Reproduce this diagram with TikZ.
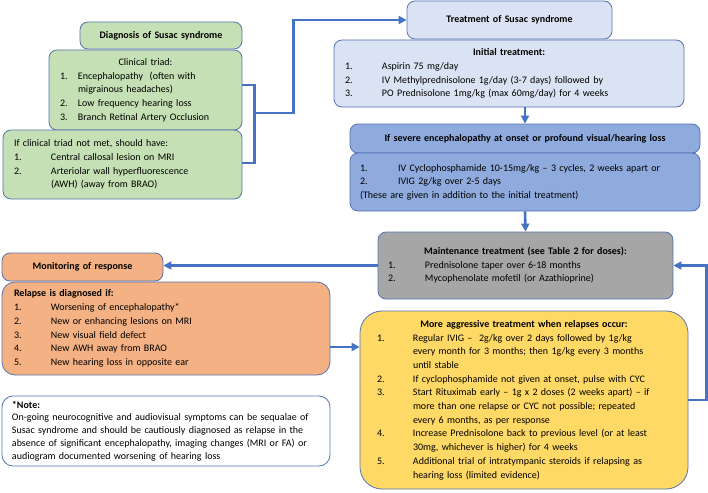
\documentclass[tikz,border=0pt]{standalone}
\usepackage{fontspec}
\setmainfont{Carlito}
\usetikzlibrary{arrows.meta,calc}

\definecolor{grn}{HTML}{C5E0B4}
\definecolor{lblue}{HTML}{DAE3F3}
\definecolor{mblue}{HTML}{8FAADC}
\definecolor{gry}{HTML}{A6A6A6}
\definecolor{orng}{HTML}{F4B183}
\definecolor{yel}{HTML}{FFD966}
\definecolor{lnk}{HTML}{4472C4}
\definecolor{bord}{HTML}{5573B2}

\tikzset{
	box/.style={draw=bord, line width=0.8pt, rounded corners=8pt, align=left, inner ysep=0pt, font=\fontsize{10}{13.7}\selectfont},
	ttlbox/.style={box, align=center, inner xsep=0pt, font=\fontsize{10}{13.7}\selectfont\bfseries},
	link/.style={draw=lnk, line width=2.6pt},
	arr/.style={link, -{Triangle[length=8pt,width=8pt]}}
}

\begin{document}
\begin{tikzpicture}[x=1pt,y=-1pt]
	\useasboundingbox (0,0) rectangle (708,492);
	
	\node[ttlbox, fill=grn, text width=162pt, minimum height=27pt] (diag) at (161,35.5) {Diagnosis of Susac syndrome};
	
	\node[box, fill=grn, text width=171pt, inner xsep=11pt, minimum height=80pt] (triad) at (145.5,90) {\begin{tabular}{@{}p{18pt}@{}l@{}}
		\multicolumn{2}{@{}c@{}}{\makebox[171pt]{Clinical triad:}}\\
		1. & Encephalopathy\ \ (often with\\
		& migrainous headaches)\\
		2. & Low frequency hearing loss\\
		3. & Branch Retinal Artery Occlusion
	\end{tabular}};
	
	\node[box, fill=grn, text width=217pt, inner xsep=11pt, minimum height=69pt] (notmet) at (122.5,164.5) {\begin{tabular}{@{}p{37pt}@{}l@{}}
		\multicolumn{2}{@{}l@{}}{If clinical triad not met, should have:}\\
		1. & Central callosal lesion on MRI\\
		2. & Arteriolar wall hyperfluorescence\\
		& (AWH) (away from BRAO)
	\end{tabular}};
	
	\node[ttlbox, fill=lblue, text width=205pt, minimum height=38pt] (treat) at (509.5,20) {Treatment of Susac syndrome};
	
	\node[box, fill=lblue, text width=328pt, inner xsep=11pt, minimum height=67pt] (init) at (509,73.5) {\begin{tabular}{@{}p{37pt}@{}l@{}}
		\multicolumn{2}{@{}c@{}}{\makebox[328pt]{\bfseries Initial treatment:}}\\
		1. & Aspirin 75 mg/day\\
		2. & IV Methylprednisolone 1g/day (3-7 days) followed by\\
		3. & PO Prednisolone 1mg/kg (max 60mg/day) for 4 weeks
	\end{tabular}};
	
	\node[ttlbox, fill=mblue, text width=350pt, minimum height=29pt] (sevttl) at (525,138.5) {If severe encephalopathy at onset or profound visual/hearing loss};
	
	\node[box, fill=mblue, text width=330pt, inner xsep=10pt, minimum height=58pt] (sevlist) at (525,182) {\begin{tabular}{@{}p{38pt}@{}l@{}}
		1. & IV Cyclophosphamide 10-15mg/kg -- 3 cycles, 2 weeks apart or\\
		2. & IVIG 2g/kg over 2-5 days\\
		\multicolumn{2}{@{}l@{}}{(These are given in addition to the initial treatment)}
	\end{tabular}};
	
	\node[box, fill=gry, text width=275pt, inner xsep=10pt, minimum height=67pt] (maint) at (525.5,265.5) {\begin{tabular}{@{}p{37pt}@{}l@{}}
		\multicolumn{2}{@{}c@{}}{\makebox[275pt]{\bfseries Maintenance treatment (see Table 2 for doses):}}\\
		1. & Prednisolone taper over 6-18 months\\
		2. & Mycophenolate mofetil (or Azathioprine)
	\end{tabular}};
	
	\node[ttlbox, fill=orng, text width=161pt, minimum height=28pt] (mon) at (82.5,267) {Monitoring of response};
	
	\node[box, fill=orng, rounded corners=13pt, text width=304pt, inner xsep=12pt, minimum height=93pt] (relapse) at (166,328.5) {\begin{tabular}{@{}p{37pt}@{}l@{}}
		\multicolumn{2}{@{}l@{}}{\bfseries Relapse is diagnosed if:}\\
		1. & Worsening of encephalopathy*\\
		2. & New or enhancing lesions on MRI\\
		3. & New visual field defect\\
		4. & New AWH away from BRAO\\
		5. & New hearing loss in opposite ear
	\end{tabular}};
	
	\node[box, fill=white, rounded corners=11pt, text width=308pt, inner xsep=10pt, minimum height=70pt, font=\fontsize{10}{12.8}\selectfont] (note) at (166,431) {\textbf{*Note:}\\
		On-going neurocognitive and audiovisual symptoms can be sequalae of\\
		Susac syndrome and should be cautiously diagnosed as relapse in the\\
		absence of significant encephalopathy, imaging changes (MRI or FA) or\\
		audiogram documented worsening of hearing loss};
	
	\node[box, fill=yel, rounded corners=22pt, text width=294pt, inner xsep=17pt, minimum height=178pt] (aggr) at (524,400) {\begin{tabular}{@{}p{36pt}@{}l@{}}
		\multicolumn{2}{@{}c@{}}{\makebox[294pt]{\bfseries More aggressive treatment when relapses occur:}}\\
		1. & Regular IVIG --\ \ 2g/kg over 2 days followed by 1g/kg\\
		& every month for 3 months; then 1g/kg every 3 months\\
		& until stable\\
		2. & If cyclophosphamide not given at onset, pulse with CYC\\
		3. & Start Rituximab early -- 1g x 2 doses (2 weeks apart) -- if\\
		& more than one relapse or CYC not possible; repeated\\
		& every 6 months, as per response\\
		4. & Increase Prednisolone back to previous level (or at least\\
		& 30mg, whichever is higher) for 4 weeks\\
		5. & Additional trial of intratympanic steroids if relapsing as\\
		& hearing loss (limited evidence)
	\end{tabular}};
	
	\draw[link] ([yshift=5pt]triad.east) -- ++(12,0) |- ([yshift=1.5pt]notmet.east);
	
	\coordinate (brk) at ($([yshift=5pt]triad.east)+(12,28)$);
	\draw[arr] (brk) -- ++(39,0) |- (treat.west);
	
	\draw[arr] (sevttl.north |- init.south) -- (sevttl.north);
	
	\draw[arr] (sevlist.south) -- (maint.north);
	
	\draw[arr] (maint.west) -- (maint.west -| mon.east);
	
	\draw[arr] ([yshift=-18.5pt]relapse.east) coordinate (rel) -- (rel -| aggr.west);
	
	\draw[arr] (aggr.east) -- ++(18,0) |- (maint.east);
	
\end{tikzpicture}
\end{document}
